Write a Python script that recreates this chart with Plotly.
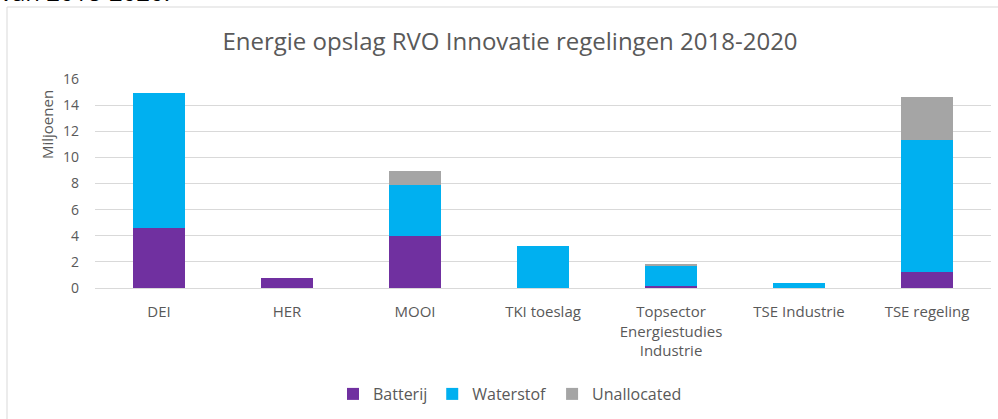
import plotly.graph_objects as go

categories = ["DEI", "HER", "MOOI", "TKI toeslag", "Topsector<br>Energiestudies<br>Industrie", "TSE Industrie", "TSE regeling"]
batterij = [4.6, 0.75, 4.0, 0.0, 0.15, 0.0, 1.2]
waterstof = [10.35, 0.0, 3.86, 3.22, 1.55, 0.38, 10.13]
unallocated = [0.0, 0.0, 1.12, 0.0, 0.08, 0.0, 3.27]
y_ticks = [0, 2, 4, 6, 8, 10, 12, 14, 16]

W, H = 998, 419
L, R, T, B = 95, 991, 79, 288  # plot area in pixels

def px_x(p):
    return (p - L) / (R - L)

def px_y(p):
    return (B - p) / (B - T)

font_fam = "Open Sans, Segoe UI, sans-serif"
grey_txt = "#595959"

fig = go.Figure()
fig.add_trace(go.Bar(name="Batterij", x=categories, y=batterij, marker_color="#7030A0",
                     marker_line_width=0))
fig.add_trace(go.Bar(name="Waterstof", x=categories, y=waterstof, marker_color="#00B0F0",
                     marker_line_width=0))
fig.add_trace(go.Bar(name="Unallocated", x=categories, y=unallocated, marker_color="#A5A5A5",
                     marker_line_width=0))

fig.update_layout(
    width=W, height=H,
    barmode="stack", bargap=0.59,
    margin=dict(l=L, r=W - R, t=T, b=H - B, pad=0),
    paper_bgcolor="white", plot_bgcolor="white",
    font=dict(family=font_fam, color=grey_txt, size=13),
    title=dict(text="Energie opslag RVO Innovatie regelingen 2018-2020",
               x=0.511, xanchor="center", y=1 - 42 / H, yanchor="middle",
               font=dict(size=24, color=grey_txt, family=font_fam)),
    legend=dict(orientation="h", x=px_x(333), xanchor="left", y=px_y(394), yanchor="middle",
                font=dict(size=16, color=grey_txt), itemwidth=30, traceorder="normal"),
    showlegend=True,
)
fig.update_xaxes(showgrid=False, showline=True, linecolor="#d9d9d9", linewidth=1,
                 tickfont=dict(size=15, color=grey_txt), ticks="", ticklabelstandoff=10)
fig.update_yaxes(range=[0, 16], tickvals=y_ticks, showgrid=True, gridcolor="#d9d9d9",
                 gridwidth=1, zeroline=False, showline=False,
                 tickfont=dict(size=14, color=grey_txt), ticks="", ticklabelstandoff=15)

# y-axis title
fig.add_annotation(text="Miljoenen", textangle=-90, xref="paper", yref="paper",
                   x=px_x(47), xanchor="center", y=px_y(125), yanchor="middle", showarrow=False,
                   font=dict(size=15, color=grey_txt, family=font_fam))

# chart border
fig.add_shape(type="rect", xref="paper", yref="paper",
              x0=px_x(7), x1=px_x(1005), y0=px_y(430), y1=px_y(7),
              line=dict(color="#d9d9d9", width=1), fillcolor="rgba(0,0,0,0)", layer="below")

# cut-off text above the chart
fig.add_annotation(text="van 2018-2020.", xref="paper", yref="paper",
                   x=px_x(-2), xanchor="left", y=px_y(10.5), yanchor="bottom",
                   showarrow=False, font=dict(size=24, color="#000000", family=font_fam))

fig.write_html("out.html", config={"displayModeBar": False},
               post_script="document.body.style.margin='0';document.body.style.overflow='hidden';")
